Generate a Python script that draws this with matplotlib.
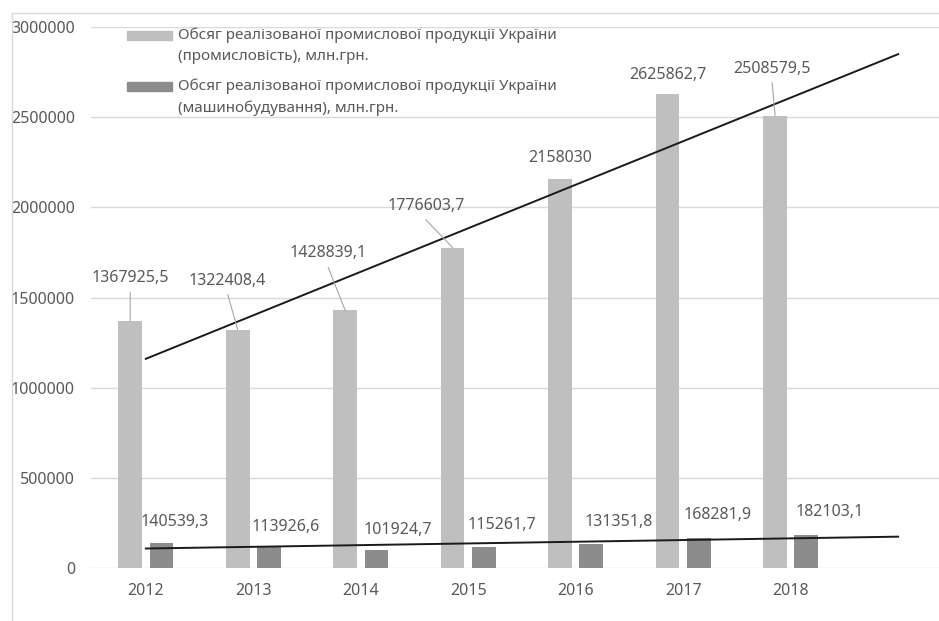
import numpy as np
import matplotlib
matplotlib.use("Agg")
import matplotlib.pyplot as plt
from matplotlib.lines import Line2D
from matplotlib.patches import Rectangle

years = ['2012', '2013', '2014', '2015', '2016', '2017', '2018']
industry = [1367925.5, 1322408.4, 1428839.1, 1776603.7, 2158030, 2625862.7, 2508579.5]
machinery = [140539.3, 113926.6, 101924.7, 115261.7, 131351.8, 168281.9, 182103.1]
industry_labels = ['1367925,5', '1322408,4', '1428839,1', '1776603,7', '2158030', '2625862,7', '2508579,5']
machinery_labels = ['140539,3', '113926,6', '101924,7', '115261,7', '131351,8', '168281,9', '182103,1']
legend_labels = [
    ['Обсяг реалізованої промислової продукції України', '(промисловість), млн.грн.'],
    ['Обсяг реалізованої промислової продукції України', '(машинобудування), млн.грн.'],
]

# label offsets (pixels) from the top of each bar
industry_offsets = [(0, 43), (-10, 49), (-17, 57), (-27, 42), (0, 21), (0, 19), (-3, 47)]
machinery_offsets = [(13, 21), (17, 20), (21, 20), (18, 22), (27, 22), (19, 23), (23, 23)]
leaders = [True, True, True, True, False, False, True]

plt.rcParams['font.family'] = ['Noto Sans', 'DejaVu Sans']
text_color = '#595959'
light = '#bfbfbf'
dark = '#8c8c8c'

W, H = 939, 621
fig = plt.figure(figsize=(W / 100, H / 100), dpi=100)
ax = fig.add_axes([91 / W, 53 / H, 1 - 91 / W, 541 / H])

x = np.arange(len(years))
width = 0.22
ax.bar(x - 0.145, industry, width, color=light, zorder=2)
ax.bar(x + 0.145, machinery, width, color=dark, zorder=2)

# linear trends, extended one period forward
xt = np.array([0, len(years)])
for vals in (industry, machinery):
    k, b = np.polyfit(x, vals, 1)
    ax.plot(xt, k * xt + b, color='#1a1a1a', lw=1.4, zorder=3)

for i in range(len(years)):
    dx, dy = industry_offsets[i]
    ax.annotate(industry_labels[i], xy=(x[i] - 0.145, industry[i]), xytext=(dx, dy),
                textcoords='offset pixels', ha='center', va='center',
                fontsize=11.5, color=text_color, zorder=4)
    if leaders[i]:
        ax.annotate('', xy=(x[i] - 0.145, industry[i]), xytext=(dx, dy - 14),
                    textcoords='offset pixels',
                    arrowprops=dict(arrowstyle='-', color='#a6a6a6', lw=0.8,
                                    shrinkA=0, shrinkB=0))
    dx, dy = machinery_offsets[i]
    ax.annotate(machinery_labels[i], xy=(x[i] + 0.145, machinery[i]), xytext=(dx, dy),
                textcoords='offset pixels', ha='center', va='center',
                fontsize=11.5, color=text_color, zorder=4)

ax.set_xlim(-0.51, 7.38)
ax.set_ylim(0, 3000000)
ax.set_yticks(np.arange(0, 3000001, 500000))
ax.set_yticklabels([str(v) for v in range(0, 3000001, 500000)])
ax.set_xticks(x)
ax.set_xticklabels(years)
ax.tick_params(axis='both', length=0, labelsize=11.5, colors=text_color)
ax.tick_params(axis='y', pad=11.5)
ax.tick_params(axis='x', pad=11)
ax.grid(axis='y', color='#d9d9d9', lw=1, zorder=0)
for s in ax.spines.values():
    s.set_visible(False)

# legend: swatch beside the first line of each two-line entry
legend_rows = [35, 86]
for (line1, line2), color, y0 in zip(legend_labels, [light, dark], legend_rows):
    fig.add_artist(Rectangle((127 / W, 1 - (y0 + 4.5) / H), 45 / W, 9 / H,
                             transform=fig.transFigure, color=color))
    fig.text(178 / W, 1 - y0 / H, line1, ha='left', va='center',
             fontsize=11, color=text_color)
    fig.text(178 / W, 1 - (y0 + 22) / H, line2, ha='left', va='center',
             fontsize=11, color=text_color)

# outer chart frame
fig.add_artist(Line2D([12 / W, 12 / W], [0, 1 - 13 / H], color='#d9d9d9', lw=1))
fig.add_artist(Line2D([12 / W, 1], [1 - 13 / H, 1 - 13 / H], color='#d9d9d9', lw=1))

fig.savefig('out.png', dpi=100)
